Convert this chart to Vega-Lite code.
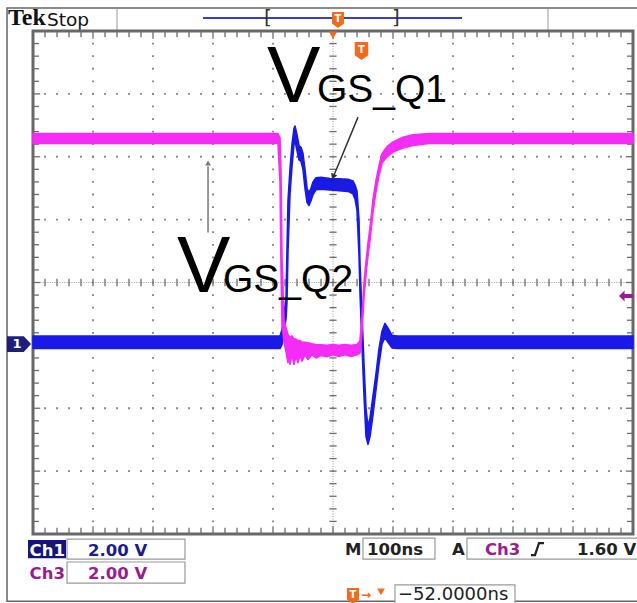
{
  "$schema": "https://vega.github.io/schema/vega-lite/v6.json",
  "width": 600,
  "height": 503,
  "autosize": "none",
  "padding": {"left": 33, "top": 31, "right": 4, "bottom": 69},
  "background": "white",
  "config": {"view": {"stroke": null}},
  "encoding": {
    "x": {"field": "t", "type": "quantitative", "scale": {"domain": [-500, 500], "nice": false, "zero": false}, "axis": null},
    "y": {"field": "v", "type": "quantitative", "scale": {"domain": [-8, 8], "nice": false, "zero": false}, "axis": null}
  },
  "layer": [
    {
      "data": {"values": [{"t": -543.3, "t2": 520, "v": 8.73, "v2": -10.14}]},
      "mark": {"type": "rect", "fill": null, "stroke": "#666666", "strokeWidth": 1.5},
      "encoding": {"x2": {"field": "t2"}, "y2": {"field": "v2"}}
    },
    {
      "data": {"values": [{"t": -360, "v": 8.73, "v2": 8.0}, {"t": 358.3, "v": 8.73, "v2": 8.0}]},
      "mark": {"type": "rule", "color": "#9a9a9a", "strokeWidth": 1},
      "encoding": {"y2": {"field": "v2"}}
    },
    {
      "data": {"values": [{"t": -216.7, "t2": 215, "v": 8.41}]},
      "mark": {"type": "rule", "color": "#3b3bcf", "strokeWidth": 2},
      "encoding": {"x2": {"field": "t2"}}
    },
    {
      "data": {"values": [{"t": -108.3, "v": 8.41, "label": "["}, {"t": 105, "v": 8.41, "label": "]"}]},
      "mark": {"type": "text", "font": "DejaVu Sans", "fontSize": 20, "color": "#333333", "align": "center", "baseline": "middle"},
      "encoding": {"text": {"field": "label"}}
    },
    {
      "data": {"values": [{"t": -541.7, "v": 8.19, "label": "Tek"}]},
      "mark": {"type": "text", "font": "Liberation Serif", "fontWeight": "bold", "fontSize": 24, "color": "#111111", "align": "left", "baseline": "alphabetic"},
      "encoding": {"text": {"field": "label"}}
    },
    {
      "data": {"values": [{"t": -476.7, "v": 8.16, "label": "Stop"}]},
      "mark": {"type": "text", "font": "DejaVu Sans", "fontSize": 18.5, "color": "#111111", "align": "left", "baseline": "alphabetic"},
      "encoding": {"text": {"field": "label"}}
    },
    {
      "data": {"values": [
        {"t": -500, "t2": 500, "v": -6}, {"t": -500, "t2": 500, "v": -4}, {"t": -500, "t2": 500, "v": -2},
        {"t": -500, "t2": 500, "v": 2}, {"t": -500, "t2": 500, "v": 4}, {"t": -500, "t2": 500, "v": 6}
      ]},
      "mark": {"type": "rule", "color": "#808080", "strokeWidth": 1.8, "strokeDash": [1.8, 10.2], "strokeDashOffset": 0.9},
      "encoding": {"x2": {"field": "t2"}}
    },
    {
      "data": {"values": [
        {"t": -400, "v": 8, "v2": -8}, {"t": -300, "v": 8, "v2": -8}, {"t": -200, "v": 8, "v2": -8}, {"t": -100, "v": 8, "v2": -8},
        {"t": 100, "v": 8, "v2": -8}, {"t": 200, "v": 8, "v2": -8}, {"t": 300, "v": 8, "v2": -8}, {"t": 400, "v": 8, "v2": -8}
      ]},
      "mark": {"type": "rule", "color": "#808080", "strokeWidth": 1.8, "strokeDash": [1.8, 10.775], "strokeDashOffset": 0.9},
      "encoding": {"y2": {"field": "v2"}}
    },
    {
      "data": {"values": [{"t": -500, "t2": 500, "v": 0}]},
      "mark": {"type": "rule", "color": "#9a9a9a", "strokeWidth": 1, "strokeDash": [1, 1.4]},
      "encoding": {"x2": {"field": "t2"}}
    },
    {
      "data": {"values": [{"t": 0, "v": 8, "v2": -8}]},
      "mark": {"type": "rule", "color": "#9a9a9a", "strokeWidth": 1, "strokeDash": [1, 1.5]},
      "encoding": {"y2": {"field": "v2"}}
    },
    {
      "data": {"values": [
        {"t": -480, "v": [-0.12, 8, -8], "v2": [0.12, 7.8, -7.8]}, {"t": -460, "v": [-0.12, 8, -8], "v2": [0.12, 7.8, -7.8]},
        {"t": -440, "v": [-0.12, 8, -8], "v2": [0.12, 7.8, -7.8]}, {"t": -420, "v": [-0.12, 8, -8], "v2": [0.12, 7.8, -7.8]},
        {"t": -400, "v": [-0.12, 8, -8], "v2": [0.12, 7.75, -7.75]}, {"t": -380, "v": [-0.12, 8, -8], "v2": [0.12, 7.8, -7.8]},
        {"t": -360, "v": [-0.12, 8, -8], "v2": [0.12, 7.8, -7.8]}, {"t": -340, "v": [-0.12, 8, -8], "v2": [0.12, 7.8, -7.8]},
        {"t": -320, "v": [-0.12, 8, -8], "v2": [0.12, 7.8, -7.8]}, {"t": -300, "v": [-0.12, 8, -8], "v2": [0.12, 7.75, -7.75]},
        {"t": -280, "v": [-0.12, 8, -8], "v2": [0.12, 7.8, -7.8]}, {"t": -260, "v": [-0.12, 8, -8], "v2": [0.12, 7.8, -7.8]},
        {"t": -240, "v": [-0.12, 8, -8], "v2": [0.12, 7.8, -7.8]}, {"t": -220, "v": [-0.12, 8, -8], "v2": [0.12, 7.8, -7.8]},
        {"t": -200, "v": [-0.12, 8, -8], "v2": [0.12, 7.75, -7.75]}, {"t": -180, "v": [-0.12, 8, -8], "v2": [0.12, 7.8, -7.8]},
        {"t": -160, "v": [-0.12, 8, -8], "v2": [0.12, 7.8, -7.8]}, {"t": -140, "v": [-0.12, 8, -8], "v2": [0.12, 7.8, -7.8]},
        {"t": -120, "v": [-0.12, 8, -8], "v2": [0.12, 7.8, -7.8]}, {"t": -100, "v": [-0.12, 8, -8], "v2": [0.12, 7.75, -7.75]},
        {"t": -80, "v": [-0.12, 8, -8], "v2": [0.12, 7.8, -7.8]}, {"t": -60, "v": [-0.12, 8, -8], "v2": [0.12, 7.8, -7.8]},
        {"t": -40, "v": [-0.12, 8, -8], "v2": [0.12, 7.8, -7.8]}, {"t": -20, "v": [-0.12, 8, -8], "v2": [0.12, 7.8, -7.8]},
        {"t": 0, "v": [-0.12, 8, -8], "v2": [0.12, 7.75, -7.75]}, {"t": 20, "v": [-0.12, 8, -8], "v2": [0.12, 7.8, -7.8]},
        {"t": 40, "v": [-0.12, 8, -8], "v2": [0.12, 7.8, -7.8]}, {"t": 60, "v": [-0.12, 8, -8], "v2": [0.12, 7.8, -7.8]},
        {"t": 80, "v": [-0.12, 8, -8], "v2": [0.12, 7.8, -7.8]}, {"t": 100, "v": [-0.12, 8, -8], "v2": [0.12, 7.75, -7.75]},
        {"t": 120, "v": [-0.12, 8, -8], "v2": [0.12, 7.8, -7.8]}, {"t": 140, "v": [-0.12, 8, -8], "v2": [0.12, 7.8, -7.8]},
        {"t": 160, "v": [-0.12, 8, -8], "v2": [0.12, 7.8, -7.8]}, {"t": 180, "v": [-0.12, 8, -8], "v2": [0.12, 7.8, -7.8]},
        {"t": 200, "v": [-0.12, 8, -8], "v2": [0.12, 7.75, -7.75]}, {"t": 220, "v": [-0.12, 8, -8], "v2": [0.12, 7.8, -7.8]},
        {"t": 240, "v": [-0.12, 8, -8], "v2": [0.12, 7.8, -7.8]}, {"t": 260, "v": [-0.12, 8, -8], "v2": [0.12, 7.8, -7.8]},
        {"t": 280, "v": [-0.12, 8, -8], "v2": [0.12, 7.8, -7.8]}, {"t": 300, "v": [-0.12, 8, -8], "v2": [0.12, 7.75, -7.75]},
        {"t": 320, "v": [-0.12, 8, -8], "v2": [0.12, 7.8, -7.8]}, {"t": 340, "v": [-0.12, 8, -8], "v2": [0.12, 7.8, -7.8]},
        {"t": 360, "v": [-0.12, 8, -8], "v2": [0.12, 7.8, -7.8]}, {"t": 380, "v": [-0.12, 8, -8], "v2": [0.12, 7.8, -7.8]},
        {"t": 400, "v": [-0.12, 8, -8], "v2": [0.12, 7.75, -7.75]}, {"t": 420, "v": [-0.12, 8, -8], "v2": [0.12, 7.8, -7.8]},
        {"t": 440, "v": [-0.12, 8, -8], "v2": [0.12, 7.8, -7.8]}, {"t": 460, "v": [-0.12, 8, -8], "v2": [0.12, 7.8, -7.8]},
        {"t": 480, "v": [-0.12, 8, -8], "v2": [0.12, 7.8, -7.8]}
      ]},
      "transform": [{"flatten": ["v", "v2"]}],
      "mark": {"type": "rule", "color": "#6e6e6e", "strokeWidth": 1.3},
      "encoding": {"y2": {"field": "v2"}}
    },
    {
      "data": {"values": [
        {"v": -7.6, "t": [-6, -500, 500], "t2": [6, -490, 490]}, {"v": -7.2, "t": [-6, -500, 500], "t2": [6, -490, 490]},
        {"v": -6.8, "t": [-6, -500, 500], "t2": [6, -490, 490]}, {"v": -6.4, "t": [-6, -500, 500], "t2": [6, -490, 490]},
        {"v": -6.0, "t": [-6, -500, 500], "t2": [6, -488, 488]}, {"v": -5.6, "t": [-6, -500, 500], "t2": [6, -490, 490]},
        {"v": -5.2, "t": [-6, -500, 500], "t2": [6, -490, 490]}, {"v": -4.8, "t": [-6, -500, 500], "t2": [6, -490, 490]},
        {"v": -4.4, "t": [-6, -500, 500], "t2": [6, -490, 490]}, {"v": -4.0, "t": [-6, -500, 500], "t2": [6, -488, 488]},
        {"v": -3.6, "t": [-6, -500, 500], "t2": [6, -490, 490]}, {"v": -3.2, "t": [-6, -500, 500], "t2": [6, -490, 490]},
        {"v": -2.8, "t": [-6, -500, 500], "t2": [6, -490, 490]}, {"v": -2.4, "t": [-6, -500, 500], "t2": [6, -490, 490]},
        {"v": -2.0, "t": [-6, -500, 500], "t2": [6, -488, 488]}, {"v": -1.6, "t": [-6, -500, 500], "t2": [6, -490, 490]},
        {"v": -1.2, "t": [-6, -500, 500], "t2": [6, -490, 490]}, {"v": -0.8, "t": [-6, -500, 500], "t2": [6, -490, 490]},
        {"v": -0.4, "t": [-6, -500, 500], "t2": [6, -490, 490]}, {"v": 0.0, "t": [-6, -500, 500], "t2": [6, -488, 488]},
        {"v": 0.4, "t": [-6, -500, 500], "t2": [6, -490, 490]}, {"v": 0.8, "t": [-6, -500, 500], "t2": [6, -490, 490]},
        {"v": 1.2, "t": [-6, -500, 500], "t2": [6, -490, 490]}, {"v": 1.6, "t": [-6, -500, 500], "t2": [6, -490, 490]},
        {"v": 2.0, "t": [-6, -500, 500], "t2": [6, -488, 488]}, {"v": 2.4, "t": [-6, -500, 500], "t2": [6, -490, 490]},
        {"v": 2.8, "t": [-6, -500, 500], "t2": [6, -490, 490]}, {"v": 3.2, "t": [-6, -500, 500], "t2": [6, -490, 490]},
        {"v": 3.6, "t": [-6, -500, 500], "t2": [6, -490, 490]}, {"v": 4.0, "t": [-6, -500, 500], "t2": [6, -488, 488]},
        {"v": 4.4, "t": [-6, -500, 500], "t2": [6, -490, 490]}, {"v": 4.8, "t": [-6, -500, 500], "t2": [6, -490, 490]},
        {"v": 5.2, "t": [-6, -500, 500], "t2": [6, -490, 490]}, {"v": 5.6, "t": [-6, -500, 500], "t2": [6, -490, 490]},
        {"v": 6.0, "t": [-6, -500, 500], "t2": [6, -488, 488]}, {"v": 6.4, "t": [-6, -500, 500], "t2": [6, -490, 490]},
        {"v": 6.8, "t": [-6, -500, 500], "t2": [6, -490, 490]}, {"v": 7.2, "t": [-6, -500, 500], "t2": [6, -490, 490]},
        {"v": 7.6, "t": [-6, -500, 500], "t2": [6, -490, 490]}
      ]},
      "transform": [{"flatten": ["t", "t2"]}],
      "mark": {"type": "rule", "color": "#6e6e6e", "strokeWidth": 1.3},
      "encoding": {"x2": {"field": "t2"}}
    },
    {
      "data": {"values": [{"t": -500, "t2": 500, "v": 8, "v2": -8}]},
      "mark": {"type": "rect", "fill": null, "stroke": "#686868", "strokeWidth": 3},
      "encoding": {"x2": {"field": "t2"}, "y2": {"field": "v2"}}
    },
    {
      "data": {"values": [
        {"t": -500, "v": -2.1, "v2": -1.7},
        {"t": -88.3, "v": -2.1, "v2": -1.7},
        {"t": -85, "v": -1.98, "v2": -1.5},
        {"t": -81.7, "v": -1.55, "v2": -1.0},
        {"t": -78.3, "v": -1.15, "v2": -0.5},
        {"t": -76.7, "v": -0.6, "v2": 1.0},
        {"t": -75, "v": 1.0, "v2": 2.6},
        {"t": -71.7, "v": 2.8, "v2": 3.6},
        {"t": -68.3, "v": 3.7, "v2": 4.4},
        {"t": -65, "v": 4.4, "v2": 4.9},
        {"t": -63.3, "v": 4.5, "v2": 4.98},
        {"t": -60, "v": 4.2, "v2": 4.7},
        {"t": -56.7, "v": 3.9, "v2": 4.35},
        {"t": -53.3, "v": 3.85, "v2": 4.3},
        {"t": -50, "v": 3.6, "v2": 4.1},
        {"t": -46.7, "v": 3.0, "v2": 3.6},
        {"t": -43.3, "v": 2.55, "v2": 3.0},
        {"t": -40, "v": 2.45, "v2": 2.85},
        {"t": -36.7, "v": 2.6, "v2": 3.0},
        {"t": -33.3, "v": 2.8, "v2": 3.2},
        {"t": -28.3, "v": 2.95, "v2": 3.33},
        {"t": -20, "v": 2.97, "v2": 3.35},
        {"t": -5, "v": 2.94, "v2": 3.31},
        {"t": 10, "v": 2.92, "v2": 3.3},
        {"t": 25, "v": 2.9, "v2": 3.28},
        {"t": 33.3, "v": 2.82, "v2": 3.23},
        {"t": 36.7, "v": 2.65, "v2": 3.1},
        {"t": 40, "v": 2.3, "v2": 2.9},
        {"t": 43.3, "v": 0.9, "v2": 2.0},
        {"t": 45, "v": -0.3, "v2": 0.6},
        {"t": 48.3, "v": -2.0, "v2": -1.0},
        {"t": 51.7, "v": -3.6, "v2": -2.6},
        {"t": 55, "v": -4.9, "v2": -4.0},
        {"t": 58.3, "v": -5.15, "v2": -4.6},
        {"t": 61.7, "v": -4.9, "v2": -4.3},
        {"t": 66.7, "v": -4.2, "v2": -3.6},
        {"t": 71.7, "v": -3.4, "v2": -2.9},
        {"t": 76.7, "v": -2.6, "v2": -2.1},
        {"t": 81.7, "v": -1.95, "v2": -1.55},
        {"t": 86.7, "v": -1.75, "v2": -1.3},
        {"t": 91.7, "v": -1.9, "v2": -1.45},
        {"t": 98.3, "v": -2.08, "v2": -1.68},
        {"t": 106.7, "v": -2.1, "v2": -1.7},
        {"t": 500, "v": -2.1, "v2": -1.7}
      ]},
      "mark": {"type": "area", "color": "#1a1ae6", "stroke": "#1a1ae6", "strokeWidth": 1.6, "strokeJoin": "round", "opacity": 1},
      "encoding": {"y2": {"field": "v2"}}
    },
    {
      "data": {"values": [
        {"t": -500, "v": 4.42, "v2": 4.74},
        {"t": -91.7, "v": 4.42, "v2": 4.74},
        {"t": -88.3, "v": 3.2, "v2": 4.6},
        {"t": -86.7, "v": 0.5, "v2": 3.5},
        {"t": -85, "v": -1.3, "v2": 0.8},
        {"t": -81.7, "v": -1.9, "v2": -1.2},
        {"t": -78.3, "v": -2.2, "v2": -1.45},
        {"t": -75, "v": -2.55, "v2": -1.65},
        {"t": -73.3, "v": -2.2, "v2": -1.7},
        {"t": -71.7, "v": -2.6, "v2": -1.75},
        {"t": -68.3, "v": -2.3, "v2": -1.7},
        {"t": -65, "v": -2.6, "v2": -1.8},
        {"t": -61.7, "v": -2.35, "v2": -1.8},
        {"t": -58.3, "v": -2.55, "v2": -1.85},
        {"t": -55, "v": -2.3, "v2": -1.85},
        {"t": -51.7, "v": -2.5, "v2": -1.9},
        {"t": -46.7, "v": -2.3, "v2": -1.9},
        {"t": -41.7, "v": -2.45, "v2": -1.92},
        {"t": -35, "v": -2.3, "v2": -1.95},
        {"t": -28.3, "v": -2.4, "v2": -1.97},
        {"t": -20, "v": -2.32, "v2": -1.98},
        {"t": -10, "v": -2.36, "v2": -2.0},
        {"t": 0, "v": -2.3, "v2": -1.97},
        {"t": 10, "v": -2.35, "v2": -2.0},
        {"t": 20, "v": -2.3, "v2": -1.97},
        {"t": 30, "v": -2.35, "v2": -2.0},
        {"t": 40, "v": -2.3, "v2": -1.97},
        {"t": 45, "v": -2.25, "v2": -1.85},
        {"t": 48.3, "v": -1.6, "v2": -1.1},
        {"t": 51.7, "v": -0.45, "v2": 0.0},
        {"t": 55, "v": 0.25, "v2": 0.65},
        {"t": 58.3, "v": 0.85, "v2": 1.25},
        {"t": 61.7, "v": 1.35, "v2": 1.75},
        {"t": 66.7, "v": 2.25, "v2": 2.65},
        {"t": 71.7, "v": 2.9, "v2": 3.25},
        {"t": 76.7, "v": 3.4, "v2": 3.72},
        {"t": 81.7, "v": 3.8, "v2": 4.1},
        {"t": 90, "v": 4.0, "v2": 4.32},
        {"t": 100, "v": 4.15, "v2": 4.47},
        {"t": 116.7, "v": 4.28, "v2": 4.62},
        {"t": 133.3, "v": 4.36, "v2": 4.7},
        {"t": 160, "v": 4.42, "v2": 4.74},
        {"t": 500, "v": 4.42, "v2": 4.74}
      ]},
      "mark": {"type": "area", "color": "#f52cf5", "stroke": "#f52cf5", "strokeWidth": 1.6, "strokeJoin": "round", "opacity": 1},
      "encoding": {"y2": {"field": "v2"}}
    },
    {
      "data": {"values": [{"t": 41.7, "t2": -1.7, "v": 5.26, "v2": 3.26}]},
      "mark": {"type": "rule", "color": "#333333", "strokeWidth": 1.5},
      "encoding": {"x2": {"field": "t2"}, "y2": {"field": "v2"}}
    },
    {
      "data": {"values": [{"t": 0.8, "v": 3.39}]},
      "mark": {"type": "point", "shape": "triangle", "angle": 202.5, "size": 45, "filled": true, "color": "#333333", "opacity": 1}
    },
    {
      "data": {"values": [{"t": -208.3, "v": 1.59, "v2": 3.7}]},
      "mark": {"type": "rule", "color": "#777777", "strokeWidth": 1.5},
      "encoding": {"y2": {"field": "v2"}}
    },
    {
      "data": {"values": [{"t": -208.3, "v": 3.8}]},
      "mark": {"type": "point", "shape": "triangle-up", "size": 35, "filled": true, "color": "#777777", "opacity": 1}
    },
    {
      "data": {"values": [{"t": -110, "v": 5.74, "label": "V"}, {"t": -260, "v": -0.3, "label": "V"}]},
      "mark": {"type": "text", "font": "'Liberation Sans Narrow', 'Liberation Sans', sans-serif", "fontSize": 80, "color": "#000000", "align": "left", "baseline": "alphabetic"},
      "encoding": {"text": {"field": "label"}}
    },
    {
      "data": {"values": [{"t": -26.7, "v": 5.74, "label": "GS_Q1"}, {"t": -183.3, "v": -0.3, "label": "GS_Q2"}]},
      "mark": {"type": "text", "font": "Liberation Sans", "fontSize": 39, "color": "#000000", "align": "left", "baseline": "alphabetic"},
      "encoding": {"text": {"field": "label"}}
    },
    {
      "data": {"values": [{"t": 0, "v": 7.87}]},
      "mark": {"type": "point", "shape": "triangle-down", "size": 70, "filled": true, "color": "#f26a1b", "opacity": 1}
    },
    {
      "data": {"values": [{"t": 47.5, "v": 7.36}]},
      "mark": {"type": "point", "shape": "M-0.75,-1L0.75,-1L0.75,0.45L0,1L-0.75,0.45Z", "size": 324, "filled": true, "color": "#f26a1b", "opacity": 1}
    },
    {
      "data": {"values": [{"t": 8.3, "v": 8.35}, {"t": 33.3, "v": -9.97}]},
      "mark": {"type": "point", "shape": "M-0.75,-1L0.75,-1L0.75,0.45L0,1L-0.75,0.45Z", "size": 256, "filled": true, "color": "#f26a1b", "opacity": 1}
    },
    {
      "data": {"values": [{"t": 47.5, "v": 7.4, "label": "T"}, {"t": 8.3, "v": 8.38, "label": "T"}, {"t": 33.3, "v": -9.94, "label": "T"}]},
      "mark": {"type": "text", "font": "DejaVu Sans", "fontWeight": "bold", "fontSize": 10, "color": "white", "align": "center", "baseline": "middle"},
      "encoding": {"text": {"field": "label"}}
    },
    {
      "data": {"values": [{"t": 55, "v": -9.93, "label": "→"}]},
      "mark": {"type": "text", "font": "DejaVu Sans", "fontWeight": "bold", "fontSize": 12, "color": "#f26a1b", "align": "center", "baseline": "middle"},
      "encoding": {"text": {"field": "label"}}
    },
    {
      "data": {"values": [{"t": 80, "v": -9.84}]},
      "mark": {"type": "point", "shape": "triangle-down", "size": 60, "filled": true, "color": "#f26a1b", "opacity": 1}
    },
    {
      "data": {"values": [{"t": -523.3, "v": -1.96}]},
      "mark": {"type": "point", "shape": "M-1,-0.65L0.4,-0.65L1,0L0.4,0.65L-1,0.65Z", "size": 576, "filled": true, "color": "#1f1f7a", "opacity": 1}
    },
    {
      "data": {"values": [{"t": -526.7, "v": -1.96, "label": "1"}]},
      "mark": {"type": "text", "font": "DejaVu Sans", "fontWeight": "bold", "fontSize": 13, "color": "white", "align": "center", "baseline": "middle"},
      "encoding": {"text": {"field": "label"}}
    },
    {
      "data": {"values": [{"t": 488.3, "v": -0.43}]},
      "mark": {"type": "point", "shape": "M-1,0L-0.2,-0.8L-0.2,-0.3L1,-0.3L1,0.3L-0.2,0.3L-0.2,0.8Z", "size": 196, "filled": true, "color": "#9b1c91", "opacity": 1}
    },
    {
      "data": {"values": [
        {"t": -443.3, "t2": -246.7, "v": -8.16, "v2": -8.8},
        {"t": -443.3, "t2": -246.7, "v": -8.89, "v2": -9.56},
        {"t": 50, "t2": 170, "v": -8.13, "v2": -8.8},
        {"t": 223.3, "t2": 520, "v": -8.13, "v2": -8.8},
        {"t": 103.3, "t2": 303.3, "v": -9.62, "v2": -10.5}
      ]},
      "mark": {"type": "rect", "fill": "white", "stroke": "#9a9a9a", "strokeWidth": 1.2},
      "encoding": {"x2": {"field": "t2"}, "y2": {"field": "v2"}}
    },
    {
      "data": {"values": [{"t": -508.3, "t2": -445, "v": -8.19, "v2": -8.77}]},
      "mark": {"type": "rect", "fill": "#14147a"},
      "encoding": {"x2": {"field": "t2"}, "y2": {"field": "v2"}}
    },
    {
      "data": {"values": [{"t": -505.8, "v": -8.7, "label": "Ch1"}]},
      "mark": {"type": "text", "font": "DejaVu Sans", "fontWeight": "bold", "fontSize": 16.5, "color": "white", "align": "left", "baseline": "alphabetic"},
      "encoding": {"text": {"field": "label"}}
    },
    {
      "data": {"values": [{"t": -408.3, "v": -8.7, "label": "2.00 V"}]},
      "mark": {"type": "text", "font": "DejaVu Sans", "fontWeight": "bold", "fontSize": 16.5, "color": "#1c1c8a", "align": "left", "baseline": "alphabetic"},
      "encoding": {"text": {"field": "label"}}
    },
    {
      "data": {"values": [{"t": -505.8, "v": -9.43, "label": "Ch3"}, {"t": -408.3, "v": -9.43, "label": "2.00 V"}, {"t": 253.3, "v": -8.67, "label": "Ch3"}]},
      "mark": {"type": "text", "font": "DejaVu Sans", "fontWeight": "bold", "fontSize": 16.5, "color": "#9b1c91", "align": "left", "baseline": "alphabetic"},
      "encoding": {"text": {"field": "label"}}
    },
    {
      "data": {"values": [{"t": 20, "v": -8.67, "label": "M"}, {"t": 56.7, "v": -8.67, "label": "100ns"}, {"t": 198.3, "v": -8.67, "label": "A"}, {"t": 406.7, "v": -8.67, "label": "1.60 V"}]},
      "mark": {"type": "text", "font": "DejaVu Sans", "fontWeight": "bold", "fontSize": 16.5, "color": "#222222", "align": "left", "baseline": "alphabetic"},
      "encoding": {"text": {"field": "label"}}
    },
    {
      "data": {"values": [{"t": 330, "v": -8.67}, {"t": 336.7, "v": -8.67}, {"t": 343.3, "v": -8.29}, {"t": 351.7, "v": -8.29}]},
      "mark": {"type": "line", "color": "#222222", "strokeWidth": 2.2}
    },
    {
      "data": {"values": [{"t": 108.3, "v": -10.1, "label": "−52.0000ns"}]},
      "mark": {"type": "text", "font": "DejaVu Sans", "fontSize": 18, "color": "#222222", "align": "left", "baseline": "alphabetic"},
      "encoding": {"text": {"field": "label"}}
    }
  ]
}
